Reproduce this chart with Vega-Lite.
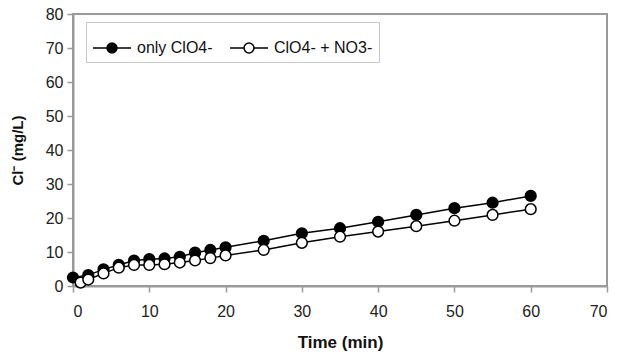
{
  "$schema": "https://vega.github.io/schema/vega-lite/v6.json",
  "width": 534,
  "height": 272,
  "autosize": "none",
  "padding": {"left": 73, "top": 14, "right": 20, "bottom": 69},
  "background": "white",
  "config": {
    "font": "Liberation Sans",
    "view": {"stroke": "#9a9a9a", "strokeWidth": 2},
    "axis": {
      "grid": false,
      "domainColor": "#9a9a9a",
      "domainWidth": 2,
      "tickColor": "#9a9a9a",
      "tickWidth": 1.5,
      "tickSize": 6,
      "labelFont": "Liberation Sans",
      "labelFontSize": 16,
      "labelColor": "#222",
      "titleFont": "Liberation Sans",
      "titleFontSize": 16,
      "titleFontWeight": "bold",
      "titleColor": "#111"
    }
  },
  "data": {
    "values": [
      {"t": 0, "v": 2.5, "s": "only ClO4-"},
      {"t": 2, "v": 3.2, "s": "only ClO4-"},
      {"t": 4, "v": 4.9, "s": "only ClO4-"},
      {"t": 6, "v": 6.2, "s": "only ClO4-"},
      {"t": 8, "v": 7.5, "s": "only ClO4-"},
      {"t": 10, "v": 7.9, "s": "only ClO4-"},
      {"t": 12, "v": 8.1, "s": "only ClO4-"},
      {"t": 14, "v": 8.6, "s": "only ClO4-"},
      {"t": 16, "v": 9.8, "s": "only ClO4-"},
      {"t": 18, "v": 10.6, "s": "only ClO4-"},
      {"t": 20, "v": 11.4, "s": "only ClO4-"},
      {"t": 25, "v": 13.3, "s": "only ClO4-"},
      {"t": 30, "v": 15.5, "s": "only ClO4-"},
      {"t": 35, "v": 17.0, "s": "only ClO4-"},
      {"t": 40, "v": 18.9, "s": "only ClO4-"},
      {"t": 45, "v": 20.9, "s": "only ClO4-"},
      {"t": 50, "v": 22.9, "s": "only ClO4-"},
      {"t": 55, "v": 24.5, "s": "only ClO4-"},
      {"t": 60, "v": 26.5, "s": "only ClO4-"},
      {"t": 1, "v": 1.0, "s": "ClO4- + NO3-"},
      {"t": 2, "v": 1.9, "s": "ClO4- + NO3-"},
      {"t": 4, "v": 3.7, "s": "ClO4- + NO3-"},
      {"t": 6, "v": 5.4, "s": "ClO4- + NO3-"},
      {"t": 8, "v": 6.2, "s": "ClO4- + NO3-"},
      {"t": 10, "v": 6.2, "s": "ClO4- + NO3-"},
      {"t": 12, "v": 6.4, "s": "ClO4- + NO3-"},
      {"t": 14, "v": 6.9, "s": "ClO4- + NO3-"},
      {"t": 16, "v": 7.5, "s": "ClO4- + NO3-"},
      {"t": 18, "v": 8.2, "s": "ClO4- + NO3-"},
      {"t": 20, "v": 9.0, "s": "ClO4- + NO3-"},
      {"t": 25, "v": 10.6, "s": "ClO4- + NO3-"},
      {"t": 30, "v": 12.7, "s": "ClO4- + NO3-"},
      {"t": 35, "v": 14.5, "s": "ClO4- + NO3-"},
      {"t": 40, "v": 16.0, "s": "ClO4- + NO3-"},
      {"t": 45, "v": 17.6, "s": "ClO4- + NO3-"},
      {"t": 50, "v": 19.2, "s": "ClO4- + NO3-"},
      {"t": 55, "v": 20.9, "s": "ClO4- + NO3-"},
      {"t": 60, "v": 22.6, "s": "ClO4- + NO3-"}
    ]
  },
  "encoding": {
    "x": {
      "field": "t", "type": "quantitative",
      "scale": {"domain": [0, 70], "nice": false, "zero": false},
      "axis": {"values": [0, 10, 20, 30, 40, 50, 60, 70], "title": "Time (min)", "labelPadding": 11, "titlePadding": 15, "titleFontSize": 17}
    },
    "y": {
      "field": "v", "type": "quantitative",
      "scale": {"domain": [0, 80], "nice": false},
      "axis": {"values": [0, 10, 20, 30, 40, 50, 60, 70, 80], "title": "Cl⁻ (mg/L)", "labelPadding": 4, "titlePadding": 20, "titleFontSize": 15}
    }
  },
  "layer": [
    {
      "mark": {"type": "line", "color": "black", "strokeWidth": 1.5},
      "encoding": {"detail": {"field": "s"}}
    },
    {
      "mark": {"type": "point", "size": 115, "stroke": "black", "strokeWidth": 1.5, "opacity": 1, "filled": false},
      "encoding": {
        "fill": {
          "field": "s", "type": "nominal",
          "scale": {"domain": ["only ClO4-", "ClO4- + NO3-"], "range": ["black", "white"]},
          "legend": {
            "title": null,
            "orient": "none",
            "legendX": 13,
            "legendY": 8,
            "direction": "horizontal",
            "strokeColor": "#c8c8c8",
            "fillColor": "white",
            "padding": 6,
            "labelFontSize": 16,
            "labelColor": "#111",
            "labelFont": "Liberation Sans",
            "symbolType": "M-1,0H-0.26M0.26,0H1M0.26,0A0.26,0.26,0,1,1,-0.26,0A0.26,0.26,0,1,1,0.26,0",
            "symbolSize": 1444,
            "symbolStrokeColor": "black",
            "symbolStrokeWidth": 1.5,
            "columnPadding": 14,
            "labelOffset": 5,
            "encode": {
              "symbols": {
                "shape": {"value": "M-1,0H-0.26M0.26,0H1M0.26,0A0.26,0.26,0,1,1,-0.26,0A0.26,0.26,0,1,1,0.26,0"},
                "size": {"value": 1444}
              }
            }
          }
        }
      }
    }
  ]
}
